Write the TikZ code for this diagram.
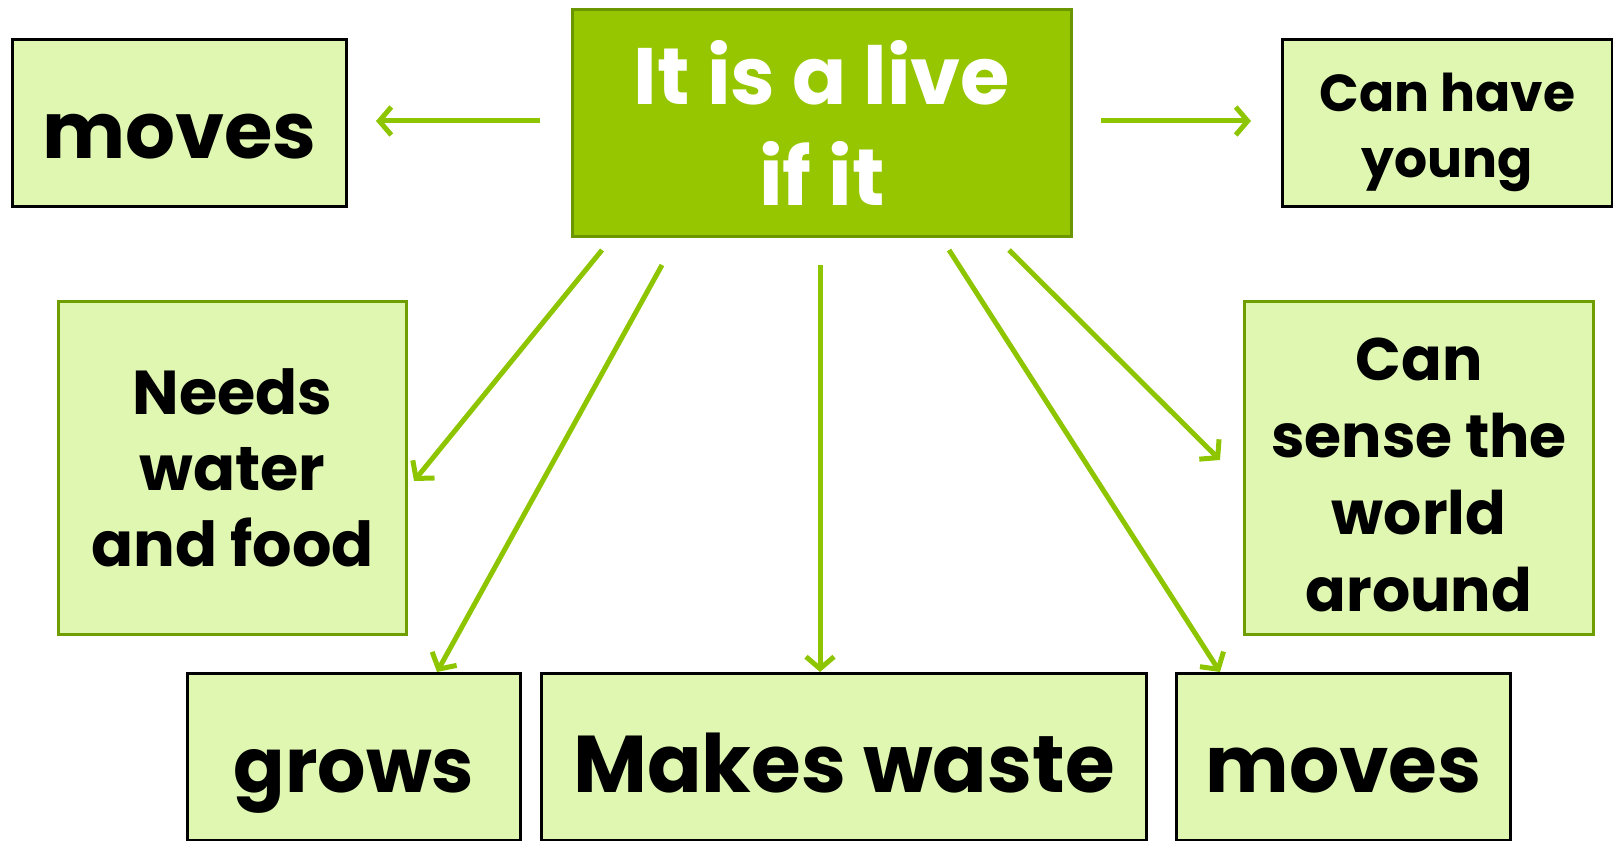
\documentclass[tikz,border=0pt]{standalone}
\usepackage{fontspec}
\setmainfont{Poppins}
\usetikzlibrary{arrows.meta,calc}
\definecolor{lightfill}{RGB}{224,247,178}
\definecolor{mainfill}{RGB}{150,198,0}
\definecolor{mainborder}{RGB}{108,150,0}
\definecolor{arrowgreen}{RGB}{141,197,0}
\definecolor{greenborder}{RGB}{110,158,0}
\tikzset{
  blackbox/.style={draw=black, line width=3pt, fill=lightfill, inner sep=0pt, anchor=north west, align=center, text=black, font=\bfseries},
  greenbox/.style={draw=greenborder, line width=3pt, fill=lightfill, inner sep=0pt, anchor=north west, align=center, text=black, font=\bfseries},
  mainbox/.style={draw=mainborder, line width=3pt, fill=mainfill, inner sep=0pt, anchor=north west, align=center, text=white, font=\bfseries},
  lowtext/.style={text height=70pt, text depth=0pt},
  arr/.style={draw=arrowgreen, line width=5pt, -{Straight Barb[length=12pt,width=28pt,line width=5pt]}}
}
\begin{document}
\begin{tikzpicture}[x=1pt,y=-1pt]
\useasboundingbox (0,0) rectangle (1613,840);
\node[mainbox, minimum width=499pt, minimum height=227pt, node font=\fontsize{80}{101}\selectfont] (c) at (571,8) {It is a live\\if it};
\node[blackbox, lowtext, minimum width=334pt, minimum height=167pt, node font=\fontsize{78.5}{100}\selectfont] (m1) at (11,38) {moves};
\node[blackbox, minimum width=330pt, minimum height=167pt, node font=\fontsize{52}{66}\selectfont] (y) at (1281,38) {\rule{0pt}{58pt}Can have\\young};
\node[greenbox, minimum width=348pt, minimum height=333pt, node font=\fontsize{62}{76}\selectfont] (n) at (57,300) {Needs\\water\\and food};
\node[greenbox, minimum width=349pt, minimum height=333pt, node font=\fontsize{60}{77}\selectfont] (s) at (1243,300) {\rule{0pt}{56pt}Can\\sense the\\world\\around};
\node[blackbox, lowtext, minimum width=333pt, minimum height=167pt, node font=\fontsize{76}{100}\selectfont] (g) at (186,672) {grows};
\node[blackbox, lowtext, minimum width=605pt, minimum height=167pt, node font=\fontsize{80.5}{100}\selectfont] (w) at (540,672) {Makes waste};
\node[blackbox, lowtext, minimum width=334pt, minimum height=167pt, node font=\fontsize{79}{100}\selectfont] (m2) at (1175,672) {moves};
% connector end points
\coordinate (cl) at (540,121);
\coordinate (ml) at (376,121);
\coordinate (cr) at (1101,121);
\coordinate (yr) at (1251,121);
\coordinate (s1) at (602,250);
\coordinate (e1) at (414,481);
\coordinate (s2) at (662,265);
\coordinate (e2) at (g.north -| 437,0);
\coordinate (s3) at (820,265);
\coordinate (e3) at (w.north -| 820,0);
\coordinate (s4) at (949,250);
\coordinate (e4) at (m2.north -| 1220,0);
\coordinate (s5) at (1009,250);
\coordinate (e5) at (1220,460);
\draw[arr] (cl) -- (ml);
\draw[arr] (cr) -- (yr);
\draw[arr] (s1) -- (e1);
\draw[arr] (s2) -- (e2);
\draw[arr] (s3) -- (e3);
\draw[arr] (s4) -- (e4);
\draw[arr] (s5) -- (e5);
\end{tikzpicture}
\end{document}
